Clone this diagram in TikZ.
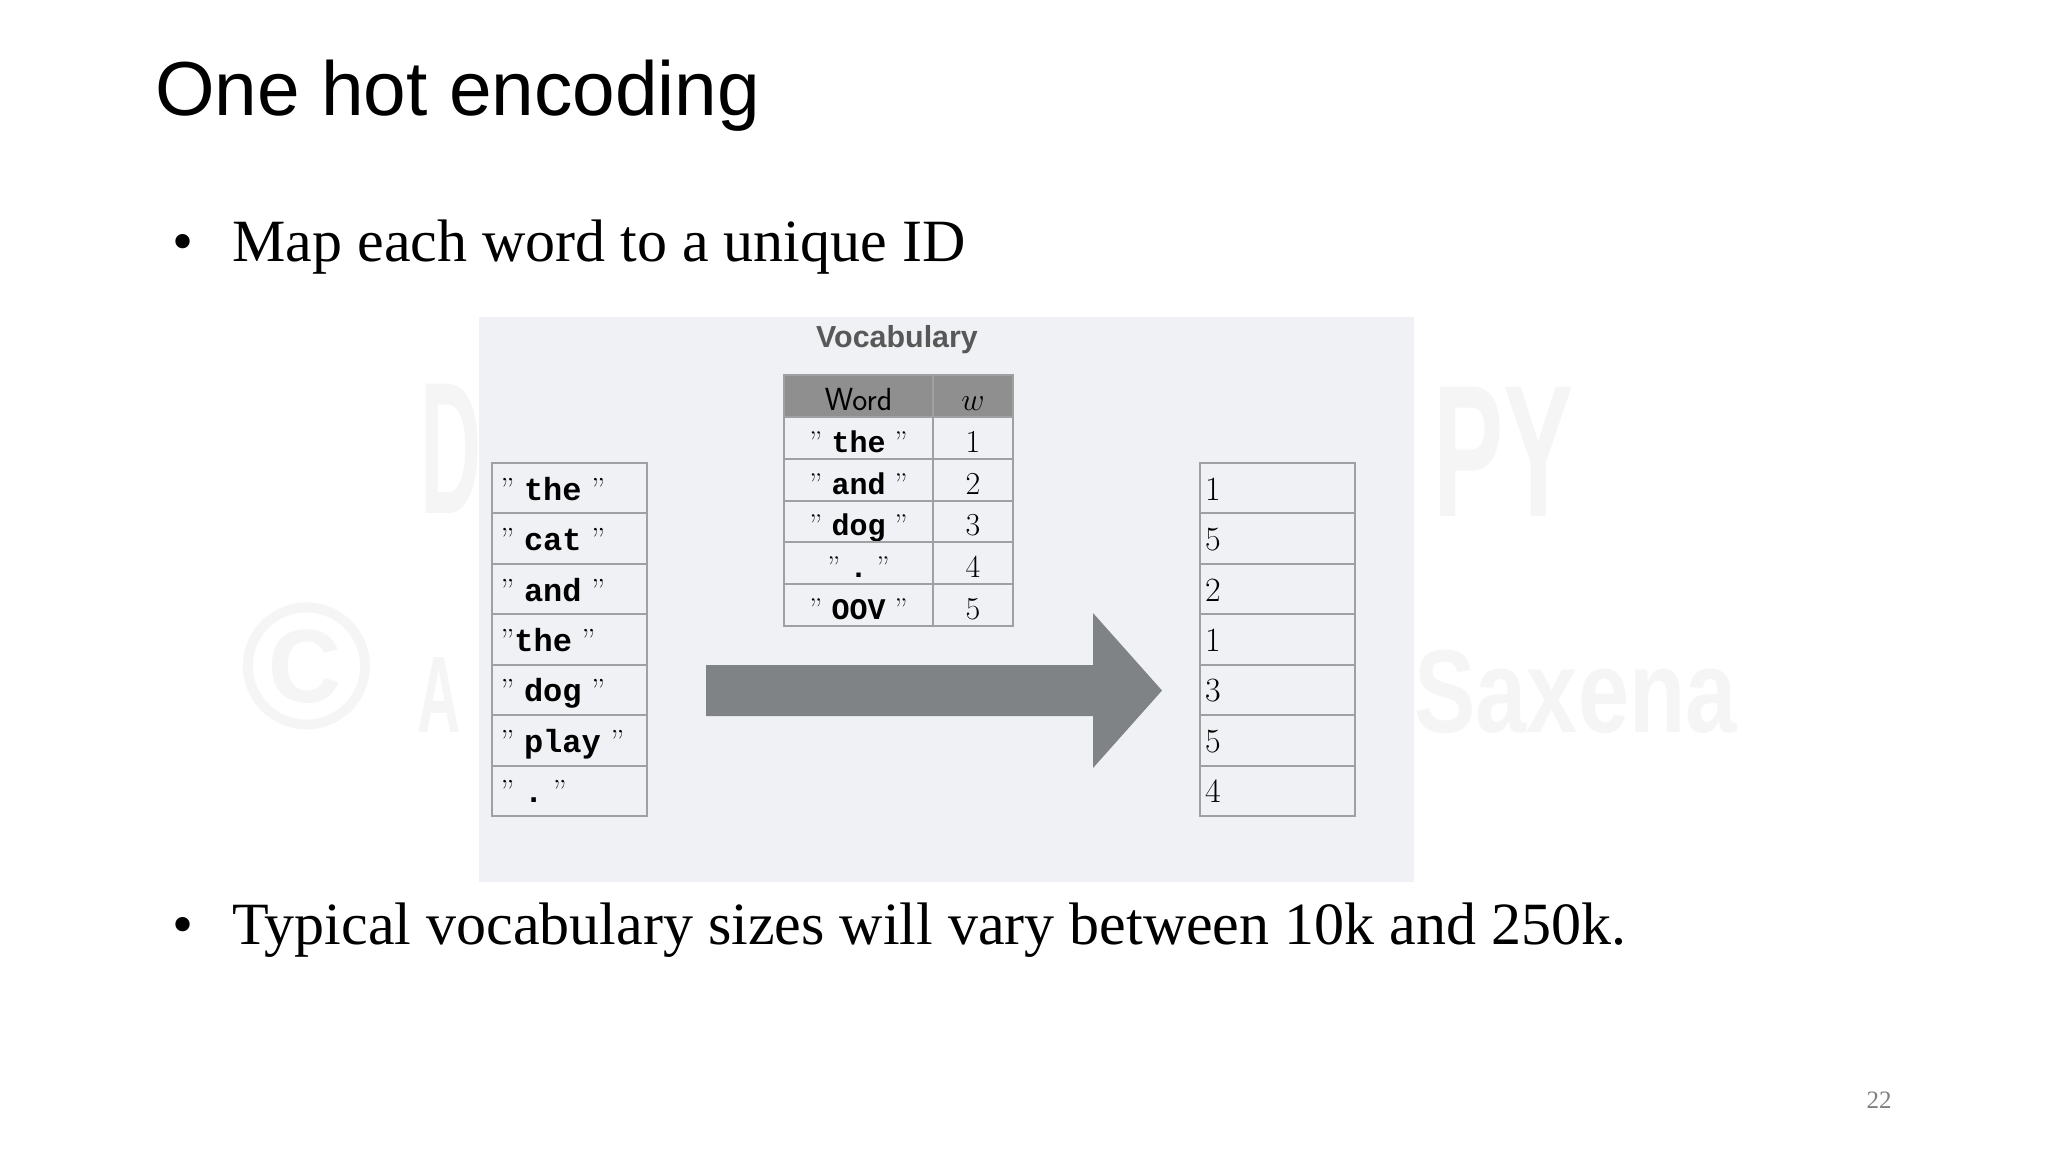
\RequirePackage{fix-cm}
\documentclass[tikz,border=0pt]{standalone}
\usepackage{fontspec}
\newfontfamily\arialf{Liberation Sans}
\newfontfamily\tnrf{Liberation Serif}
\newfontfamily\courf{Liberation Mono}
\definecolor{panelbg}{RGB}{240,241,244}
\definecolor{wmark}{RGB}{245,245,245}
\definecolor{cellline}{RGB}{160,160,162}
\definecolor{hdrfill}{RGB}{143,143,143}
\definecolor{arrowgray}{RGB}{127,131,133}
\definecolor{vocabtxt}{RGB}{88,88,88}
\definecolor{pagenum}{RGB}{128,128,128}
\newcommand\qq{{\rmfamily''}}
\newcommand\tw[1]{{\courf\bfseries #1}}
\begin{document}
\begin{tikzpicture}[x=0.5pt,y=-0.5pt,
  cellbox/.style={draw=cellline, line width=1pt, inner sep=0pt},
  lcell/.style={cellbox, minimum width=77.5pt, minimum height=25.2pt,
    text height=13pt, text depth=1pt, font=\fontsize{16}{19}\selectfont},
  rcell/.style={lcell, font=\fontsize{17}{20}\selectfont},
  vcell/.style={cellbox, minimum width=74.5pt, minimum height=20.9pt,
    text height=14pt, text depth=0pt, font=\fontsize{15}{18}\selectfont},
  ncell/.style={vcell, minimum width=40pt, font=\fontsize{16}{18}\selectfont},
  hcell/.style={fill=hdrfill},
  wm/.style={inner sep=0pt, text=wmark, font=\arialf\bfseries},
  slidetext/.style={inner sep=0pt, anchor=base west, font=\tnrf\fontsize{30}{36}\selectfont},
  bulletdot/.style={inner sep=0pt, anchor=base, font=\tnrf\fontsize{30}{36}\selectfont},
]
\useasboundingbox[fill=white] (0,0) rectangle (2048,1152);

% watermark fragments (behind the picture panel)
\node[wm, anchor=base west, font=\arialf\bfseries\fontsize{94}{100}\selectfont, xscale=0.45] (wmD) at (420,513) {D};
\node[wm, anchor=base east, font=\arialf\bfseries\fontsize{94}{100}\selectfont, xscale=0.56] (wmPY) at (1574,516) {PY};
\node[wm, anchor=center, font=\arialf\bfseries\fontsize{90}{92}\selectfont] (wmC) at (307,666) {©};
\node[wm, anchor=base west, font=\arialf\bfseries\fontsize{54.5}{60}\selectfont, xscale=0.55] (wmA) at (417,732) {A};
\node[wm, anchor=base east, font=\arialf\bfseries\fontsize{59}{64}\selectfont, xscale=0.78] (wmS) at (1737,732) {Saxena};

% title and bullets
\node[inner sep=0pt, anchor=base west, font=\arialf\fontsize{38.3}{44}\selectfont] (title) at (155,115) {One hot encoding};
\node[bulletdot] (bul1) at (183,261) {•};
\node[slidetext] (txt1) at (232,261) {Map each word to a unique ID};
\node[bulletdot] (bul2) at (183,944) {•};
\node[slidetext] (txt2) at (232,944) {Typical vocabulary sizes will vary between 10k and 250k.};
\node[inner sep=0pt, anchor=base, text=pagenum, font=\tnrf\fontsize{12.5}{14}\selectfont] (pnum) at (1879,1108) {22};

% picture panel
\node[fill=panelbg, inner sep=0pt, minimum width=467.5pt, minimum height=282.5pt] (panel) at (946.5,599.5) {};
\node[inner sep=0pt, anchor=base, text=vocabtxt, font=\arialf\bfseries\fontsize{15.2}{18}\selectfont] (vocab) at (897,347.5) {Vocabulary};

% vocabulary table
\node[vcell, hcell, font=\sffamily\fontsize{16}{18}\selectfont] (hword) at (858.5,396) {Word};
\node[ncell, hcell] (hw) at (973,396) {$w$};
\node[vcell] (v1) at (858.5,438) {\qq\ \tw{the}\ \qq};
\node[ncell] (n1) at (973,438) {1};
\node[vcell] (v2) at (858.5,480) {\qq\ \tw{and}\ \qq};
\node[ncell] (n2) at (973,480) {2};
\node[vcell] (v3) at (858.5,521.5) {\qq\ \tw{dog}\ \qq};
\node[ncell] (n3) at (973,521.5) {3};
\node[vcell] (v4) at (858.5,563) {\qq\ \tw{.}\ \qq};
\node[ncell] (n4) at (973,563) {4};
\node[vcell] (v5) at (858.5,605) {\qq\ \tw{OOV}\ \qq};
\node[ncell] (n5) at (973,605) {5};

% input words
\node[lcell] (l1) at (569.5,488.2) {\makebox[69pt][l]{\qq\ \tw{the}\ \qq}};
\node[lcell] (l2) at (569.5,538.6) {\makebox[69pt][l]{\qq\ \tw{cat}\ \qq}};
\node[lcell] (l3) at (569.5,589.0) {\makebox[69pt][l]{\qq\ \tw{and}\ \qq}};
\node[lcell] (l4) at (569.5,639.5) {\makebox[69pt][l]{\qq\tw{the}\ \qq}};
\node[lcell] (l5) at (569.5,689.9) {\makebox[69pt][l]{\qq\ \tw{dog}\ \qq}};
\node[lcell] (l6) at (569.5,740.3) {\makebox[69pt][l]{\qq\ \tw{play}\ \qq}};
\node[lcell] (l7) at (569.5,790.7) {\makebox[69pt][l]{\qq\ \tw{.}\ \qq}};

% output ids
\node[rcell] (r1) at (1277,488.2) {\makebox[72pt][l]{1}};
\node[rcell] (r2) at (1277,538.6) {\makebox[72pt][l]{5}};
\node[rcell] (r3) at (1277,589.0) {\makebox[72pt][l]{2}};
\node[rcell] (r4) at (1277,639.5) {\makebox[72pt][l]{1}};
\node[rcell] (r5) at (1277,689.9) {\makebox[72pt][l]{3}};
\node[rcell] (r6) at (1277,740.3) {\makebox[72pt][l]{5}};
\node[rcell] (r7) at (1277,790.7) {\makebox[72pt][l]{4}};

% big arrow
\fill[arrowgray] (706,665) -- (1093,665) -- (1093,613) -- (1162,690.5) -- (1093,768) -- (1093,716) -- (706,716) -- cycle;
\end{tikzpicture}
\end{document}
